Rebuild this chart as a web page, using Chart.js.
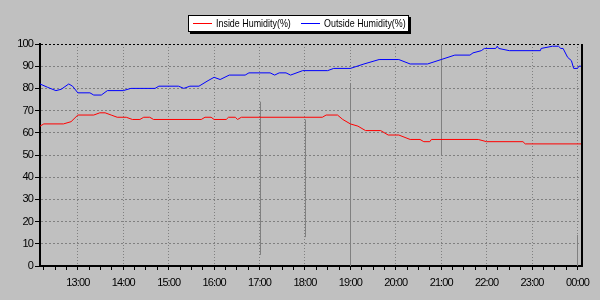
<!DOCTYPE html>
<html>
<head>
<meta charset="utf-8">
<script src="https://cdn.jsdelivr.net/npm/chart.js@4/dist/chart.umd.min.js"></script>
<style>
  body { margin: 0; background: #c0c0c0; }
  #wrap { position: relative; width: 600px; height: 300px; }
  #legend {
    position: absolute; left: 188px; top: 15px; width: 219px; height: 15px;
    background: #fff; border: 1px solid #000; box-shadow: 2px 2px 0 #000;
    font: 11px "Liberation Sans", Arial, sans-serif;
    color: #000;
  }
  #legend .item { position: absolute; top: 1px; height: 13px; line-height: 13px; white-space: nowrap; }
  #legend .swatch { position: absolute; left: 0; top: 6px; width: 19px; height: 0; border-top: 1px solid; }
  #legend .text { position: absolute; left: 23px; top: 0; display: inline-block; transform: scaleX(0.81); transform-origin: 0 0; }
</style>
</head>
<body>
<div id="wrap">
  <canvas id="chart" width="600" height="300"></canvas>
  <div id="legend">
    <span class="item" style="left:4px"><span class="swatch" style="border-color:#ff0000"></span><span class="text">Inside Humidity(%)</span></span>
    <span class="item" style="left:112px"><span class="swatch" style="border-color:#0000ff"></span><span class="text">Outside Humidity(%)</span></span>
  </div>
</div>
<script>
// Humidity log, 12:10 -> 00:06

const insideTimes = ['12:10','12:15','12:41','12:51','13:00','13:21','13:29','13:36','13:44','13:52',
    '14:04','14:12','14:22','14:27','14:35','14:40','15:43','15:48','15:56','16:00',
    '16:16','16:19','16:28','16:31','16:36','18:23','18:28','18:43','18:50','19:00',
    '19:10','19:20','19:40','19:50','20:04','20:19','20:32','20:37','20:45','20:47',
    '21:49','22:00','22:48','22:51','00:06'];
const insideValues = [63,64,64,65,68,68,69,69,68,67,
    67,66,66,67,67,66,66,67,67,66,
    66,67,67,66,67,67,68,68,66,64,
    63,61,61,59,59,57,57,56,56,57,
    57,56,56,55,55];

const outsideTimes = ['12:10','12:20','12:31','12:38','12:48','12:53','13:00','13:16','13:21','13:31',
    '13:39','14:00','14:10','14:42','14:47','15:13','15:20','15:28','15:40','15:52',
    '16:00','16:08','16:20','16:41','16:46','17:14','17:20','17:26','17:35','17:41',
    '17:57','18:30','18:38','19:00','19:18','19:38','20:04','20:19','20:42','21:00',
    '21:18','21:38','21:42','21:53','21:57','22:12','22:14','22:16','22:30','23:11',
    '23:12','23:27','23:35','23:38','23:41','23:47','23:52','23:55','00:00','00:02',
    '00:06'];
const outsideValues = [82,80.5,79,79.6,82,81,78,78,77,77,
    79,79,80,80,81,81,80,81,81,83.5,
    85,84,86,86,87,87,86,87,87,86,
    88,88,89,89,91,93,93,91,91,93,
    95,95,96,97,98,98,99,98,97,97,
    98,99,99,98,98,94,92.5,89,89,90,
    90];

const hourTicks = [13,14,15,16,17,18,19,20,21,22,23,24];
const hourLabels = ['13:00','14:00','15:00','16:00','17:00','18:00','19:00','20:00','21:00','22:00','23:00','00:00'];
const yTicks = [0,10,20,30,40,50,60,70,80,90,100];

// "HH:MM" -> decimal hours, times after midnight go past 24
function toHours(t) {
    const [h, m] = t.split(':').map(Number);
    return (h < 12 ? h + 24 : h) + m / 60;
}

function toPoints(times, values) {
    return times.map((t, i) => ({ x: toHours(t), y: values[i] }));
}

// odd solid grey strokes visible in the original screenshot: [hour, from, to]
const streaks = [[17, 74, 5], [18, 66, 13], [19, 82, 0], [21, 100, 50], [24, 14, 0]];

const framePlugin = {
    id: 'frame',
    beforeDraw(chart) {
        // squeeze the label text a bit, the original font is very narrow
        chart.ctx.letterSpacing = '-0.9px';
    },
    beforeDatasetsDraw(chart) {
        const { ctx, scales: { x, y } } = chart;
        ctx.save();
        ctx.strokeStyle = '#808080';
        ctx.lineWidth = 1;
        ctx.setLineDash([]);
        streaks.forEach(([h, a, b]) => {
            const px = Math.round(x.getPixelForValue(h)) + 0.5;
            ctx.beginPath();
            ctx.moveTo(px, y.getPixelForValue(a));
            ctx.lineTo(px, y.getPixelForValue(b));
            ctx.stroke();
        });
        ctx.restore();
    },
    afterDraw(chart) {
        const { ctx, chartArea: a } = chart;
        ctx.save();
        ctx.strokeStyle = '#000';
        ctx.lineWidth = 2;
        ctx.setLineDash([]);
        ctx.beginPath();
        ctx.moveTo(a.right, a.top);
        ctx.lineTo(a.right, a.bottom);
        ctx.stroke();
        ctx.restore();
    }
};

const tickFont = { family: '"Liberation Sans", Arial, sans-serif', size: 11 };

new Chart(document.getElementById('chart'), {
    type: 'line',
    data: {
        datasets: [
            {
                label: 'Inside Humidity(%)',
                data: toPoints(insideTimes, insideValues),
                borderColor: '#ff0000',
                borderWidth: 1,
                pointRadius: 0,
                tension: 0
            },
            {
                label: 'Outside Humidity(%)',
                data: toPoints(outsideTimes, outsideValues),
                borderColor: '#0000ff',
                borderWidth: 1,
                pointRadius: 0,
                tension: 0
            }
        ]
    },
    options: {
        responsive: false,
        animation: false,
        layout: { padding: { top: 44, right: 18, left: 0, bottom: 0 } },
        plugins: { legend: { display: false }, tooltip: { enabled: false } },
        scales: {
            x: {
                type: 'linear',
                min: 12 + 10 / 60,
                max: 24.1,
                afterFit: s => { s.height = 34; },
                border: { color: '#000', width: 2, dash: [1, 2] },
                grid: {
                    color: c => Number.isInteger(c.tick && c.tick.value) ? '#808080' : 'rgba(0,0,0,0)',
                    tickColor: '#000',
                    tickBorderDash: [],
                    tickLength: 4
                },
                ticks: {
                    stepSize: 0.25,
                    includeBounds: false,
                    autoSkip: false,
                    maxRotation: 0,
                    padding: 6,
                    color: '#000',
                    font: tickFont,
                    callback: v => {
                        const i = hourTicks.indexOf(v);
                        return i >= 0 ? hourLabels[i] : '';
                    }
                }
            },
            y: {
                min: 0,
                max: 100,
                afterFit: s => { s.width = 40; },
                afterBuildTicks: s => { s.ticks = yTicks.map(v => ({ value: v })); },
                border: { color: '#000', width: 2, dash: [2, 2] },
                grid: {
                    color: c => c.tick && c.tick.value === 100 ? '#000' : '#808080',
                    tickColor: '#000',
                    tickBorderDash: [],
                    tickLength: 5
                },
                ticks: {
                    padding: 2,
                    color: '#000',
                    font: tickFont
                }
            }
        }
    },
    plugins: [framePlugin]
});
</script>
</body>
</html>
